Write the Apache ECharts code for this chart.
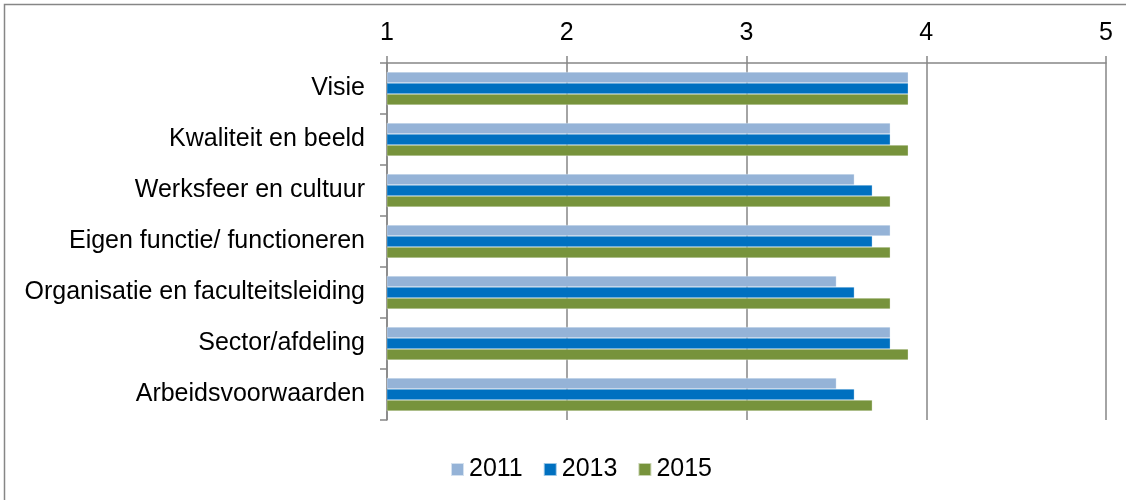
<!DOCTYPE html>
<html><head><meta charset="utf-8">
<script src="https://cdn.jsdelivr.net/npm/echarts@6/dist/echarts.min.js"></script>
<style>html,body{margin:0;padding:0;background:#fff}#c{width:1126px;height:500px}</style>
</head><body><div id="c"></div>
<script>
const categories = ['Visie','Kwaliteit en beeld','Werksfeer en cultuur','Eigen functie/ functioneren','Organisatie en faculteitsleiding','Sector/afdeling','Arbeidsvoorwaarden'];
const years = ['2011','2013','2015'];
const v2011 = [3.9,3.8,3.6,3.8,3.5,3.8,3.5];
const v2013 = [3.9,3.8,3.7,3.7,3.6,3.8,3.6];
const v2015 = [3.9,3.9,3.8,3.8,3.8,3.9,3.7];
const colors = ['#95B3D7','#0070C0','#77933C'];
const seriesData = [v2011, v2013, v2015];

const chart = echarts.init(document.getElementById('c'), null, {renderer:'canvas'});
const font = 'Liberation Sans, Arial, sans-serif';
chart.setOption({
  animation:false,
  textStyle:{fontFamily:font},
  grid:{left:387, right:20, top:63, height:357, containLabel:false},
  xAxis:{
    type:'value', position:'top', min:1, max:5, interval:1,
    axisLine:{show:true, lineStyle:{color:'#868686', width:1.5}},
    axisTick:{show:true, length:7, lineStyle:{color:'#868686', width:1.5}},
    axisLabel:{color:'#000', fontSize:25, fontFamily:font, margin:17},
    splitLine:{show:true, lineStyle:{color:'#868686', width:1.5}}
  },
  yAxis:{
    type:'category', data:categories, inverse:true,
    axisLine:{show:true, lineStyle:{color:'#868686', width:1.5}},
    axisTick:{show:true, length:7, lineStyle:{color:'#868686', width:1.5}},
    axisLabel:{color:'#000', fontSize:25, fontFamily:font, margin:22}
  },
  legend:{
    bottom:13, left:445, itemWidth:13, itemHeight:13, itemGap:20,
    icon:'rect',
    textStyle:{color:'#000', fontSize:25, fontFamily:font},
    data:years
  },
  series: years.map((y,i)=>({
    name:y, type:'bar', data:seriesData[i],
    barGap:'0%', barCategoryGap:'35%',
    itemStyle:{color:colors[i], borderColor:'rgba(255,255,255,0.6)', borderWidth:0.5}
  })),
  graphic:[{type:'rect', shape:{x:4.5,y:4.5,width:1125,height:510}, style:{fill:null, stroke:'#868686', lineWidth:1.5}, silent:true, z:-1}]
});
</script></body></html>
